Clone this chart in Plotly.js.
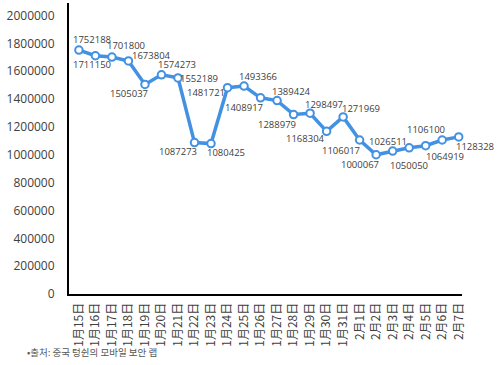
<!DOCTYPE html>
<html>
<head>
<meta charset="utf-8">
<script src="https://cdn.plot.ly/plotly-3.0.1.min.js"></script>
<style>
html,body{margin:0;padding:0;background:#fff;}
#chart{width:500px;height:365px;}
</style>
</head>
<body>
<div id="chart"></div>
<script>
const categories = ["1月15日","1月16日","1月17日","1月18日","1月19日","1月20日","1月21日","1月22日","1月23日","1月24日","1月25日","1月26日","1月27日","1月28日","1月29日","1月30日","1月31日","2月1日","2月2日","2月3日","2月4日","2月5日","2月6日","2月7日"];
const values = [1752188,1711150,1701800,1673804,1505037,1574273,1552189,1087273,1080425,1481721,1493366,1408917,1389424,1288979,1298497,1168304,1271969,1106017,1000067,1026511,1050050,1064919,1106100,1128328];
const yTicks = [0,200000,400000,600000,800000,1000000,1200000,1400000,1600000,1800000,2000000];
const sourceNote = "•출처: 중국 텅쉰의 모바일 보안 랩";

// label offsets (pixels) relative to each point: right, down
const labelDx = [13,-3,14,23,-16,16,21,-17,15,-22,14,-17,14,-17,14,-21,18,-19,-16,-5,0,19,-16,16];
const labelDy = [-11,9,-12,-5,9,-10,1,9,9,5,-10,10,-9,10,-9,7,-8,10,10,-10,18,11,-10,10];

const trace = {
  type: "scatter",
  mode: "lines+markers",
  x: categories,
  y: values,
  line: {color: "#4391E2", width: 3.5},
  marker: {size: 7.5, color: "#ffffff", line: {color: "#4391E2", width: 2}},
  cliponaxis: false,
  hoverinfo: "none"
};

const labelAnnotations = values.map((v, i) => ({
  x: categories[i], y: v, xref: "x", yref: "y",
  text: String(v), showarrow: false,
  xanchor: "center", yanchor: "middle",
  xshift: labelDx[i], yshift: -labelDy[i],
  font: {family: "Open Sans, Noto Sans, sans-serif", size: 9.5, color: "#404040"}
}));

const layout = {
  width: 500, height: 365,
  margin: {l: 69, r: 38, t: 3, b: 71},
  paper_bgcolor: "#ffffff",
  plot_bgcolor: "#ffffff",
  showlegend: false,
  xaxis: {
    type: "category",
    range: [-0.6, 23.2],
    showgrid: false, zeroline: false,
    showline: true, linecolor: "#000000", linewidth: 2,
    ticks: "", tickangle: -90, ticklabelstandoff: 2,
    tickfont: {family: "Noto Sans CJK SC, sans-serif", size: 12, color: "#404040"}
  },
  yaxis: {
    range: [0, 2090000],
    tickvals: yTicks,
    ticktext: yTicks.map(String),
    showgrid: false, zeroline: false,
    showline: true, linecolor: "#000000", linewidth: 2,
    ticks: "", ticklabelstandoff: 10,
    tickfont: {family: "Open Sans, Noto Sans, sans-serif", size: 12, color: "#404040"}
  },
  annotations: labelAnnotations.concat([{
    text: sourceNote, xref: "paper", yref: "paper",
    x: -0.112, y: -0.2, xanchor: "left", yanchor: "middle",
    showarrow: false,
    font: {family: "Noto Sans CJK KR, sans-serif", size: 9.5, color: "#555555"}
  }])
};

Plotly.newPlot("chart", [trace], layout, {displayModeBar: false, staticPlot: true});
</script>
</body>
</html>
